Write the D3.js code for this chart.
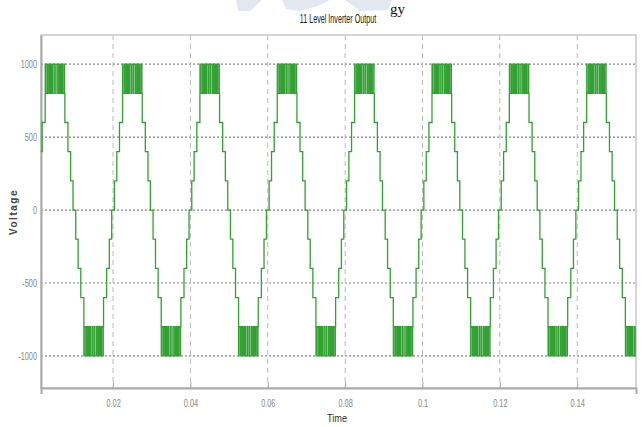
<!DOCTYPE html>
<html>
<head>
<meta charset="utf-8">
<script src="https://cdnjs.cloudflare.com/ajax/libs/d3/7.8.5/d3.min.js"></script>
<style>
  html, body { margin: 0; padding: 0; background: #fff; }
  svg { display: block; }
</style>
</head>
<body>
<svg id="chart" width="644" height="427"></svg>
<script>
// ---- Data ----
const title = "11 Level Inverter Output";
const xLabel = "Time";
const yLabel = "Voltage";
const xDomain = [0.00137, 0.1552];
const yDomain = [-1220, 1200];
const xTicks = [0.02, 0.04, 0.06, 0.08, 0.1, 0.12, 0.14];
const xTickLabels = ["0.02", "0.04", "0.06", "0.08", "0.1", "0.12", "0.14"];
const yTicks = [-1000, -500, 0, 500, 1000];
const yTickLabels = ["-1000", "-500", "0", "500", "1000"];

// one fundamental period (20 ms): [time in ms, output level from that time on]
const periodMs = [
  [0.00, 0], [0.35, 200], [0.97, 400], [1.66, 600], [2.45, 800],
  [2.47, 1000], [2.55, 800], [2.95, 1000], [3.05, 800], [3.40, 1000], [3.58, 800],
  [3.85, 1000], [4.10, 800], [4.30, 1000], [4.72, 800], [4.80, 1000], [5.20, 800],
  [5.26, 1000], [5.70, 800], [5.80, 1000], [6.15, 800], [6.40, 1000], [6.58, 800],
  [6.90, 1000], [7.02, 800], [7.40, 1000], [7.46, 800],
  [7.54, 600], [8.34, 400], [9.03, 200], [9.65, 0],
  [10.35, -200], [10.97, -400], [11.66, -600], [12.45, -800],
  [12.47, -1000], [12.55, -800], [12.95, -1000], [13.05, -800], [13.40, -1000], [13.58, -800],
  [13.85, -1000], [14.10, -800], [14.30, -1000], [14.72, -800], [14.80, -1000], [15.20, -800],
  [15.26, -1000], [15.70, -800], [15.80, -1000], [16.15, -800], [16.40, -1000], [16.58, -800],
  [16.90, -1000], [17.02, -800], [17.40, -1000], [17.46, -800],
  [17.54, -600], [18.34, -400], [19.03, -200], [19.65, 0]
];
// start time (s) of each repeated period shown
const cycleStarts = [0, 0.02, 0.04, 0.06, 0.08, 0.10, 0.12, 0.14];

// ---- Layout ----
const svg = d3.select("#chart");
const mLeft = 41, mRight = 636, mTop = 35, mBottom = 388;
const x = d3.scaleLinear().domain(xDomain).range([mLeft, mRight]);
const y = d3.scaleLinear().domain(yDomain).range([mBottom, mTop]);
const font = "'Liberation Sans', Arial, sans-serif";

function condense(sel, k) {
  sel.each(function () {
    const L = this.getComputedTextLength();
    d3.select(this).attr("textLength", L * k).attr("lengthAdjust", "spacingAndGlyphs");
  });
}

// watermark remnant at top
svg.append("path")
  .attr("d", "M236,0 L262,0 L250,11 L238,11 Z M282,0 L330,0 L318,6 L300,11 L286,9 Z M345,0 L392,0 L388,10 L360,11 Z")
  .attr("fill", "#e3e8f0");
svg.append("text").attr("x", 390).attr("y", 14)
  .attr("font-family", "'Liberation Serif', 'DejaVu Serif', serif")
  .attr("font-size", 15).attr("fill", "#111").text("gy");

// title (condensed via horizontal scale)
svg.append("text").attr("transform", "translate(338,23) scale(0.6,1)")
  .attr("text-anchor", "middle").attr("font-family", font)
  .attr("font-size", 12).attr("fill", "#222").text(title);

// grid
const grid = svg.append("g");
grid.selectAll("line.h").data(yTicks).join("line")
  .attr("x1", mLeft).attr("x2", mRight)
  .attr("y1", d => y(d)).attr("y2", d => y(d))
  .attr("stroke", "#888").attr("stroke-width", 1.2).attr("stroke-dasharray", "2,2");
grid.selectAll("line.v").data(xTicks).join("line")
  .attr("x1", d => x(d)).attr("x2", d => x(d))
  .attr("y1", mTop).attr("y2", mBottom)
  .attr("stroke", "#bbb").attr("stroke-width", 1).attr("stroke-dasharray", "5,4");

// frame
svg.append("rect").attr("x", mLeft).attr("y", mTop)
  .attr("width", mRight - mLeft).attr("height", mBottom - mTop)
  .attr("fill", "none").attr("stroke", "#c8c8c8").attr("stroke-width", 1.5);

// axes
const xAxis = d3.axisBottom(x).tickValues(xTicks)
  .tickFormat((d, i) => xTickLabels[i]).tickSize(6).tickPadding(6);
const gx = svg.append("g").attr("transform", `translate(0,${mBottom})`).call(xAxis);
const yAxis = d3.axisLeft(y).tickValues(yTicks)
  .tickFormat((d, i) => yTickLabels[i]).tickSize(0).tickPadding(4);
const gy = svg.append("g").attr("transform", `translate(${mLeft},0)`).call(yAxis);
[gx, gy].forEach(g => {
  g.select(".domain").attr("stroke", "#aaa").attr("stroke-width", 2);
  g.selectAll(".tick line").attr("stroke", "#aaa");
  g.selectAll("text").attr("font-family", font).attr("font-size", 10.5).attr("fill", "#888")
    .call(condense, 0.7);
});
gx.selectAll(".tick line").attr("y2", -6);

// axis labels
svg.append("text").attr("x", 337).attr("y", 422)
  .attr("text-anchor", "middle").attr("font-family", font)
  .attr("font-size", 11.5).attr("fill", "#333").text(xLabel)
  .call(condense, 0.8);
svg.append("text").attr("transform", "translate(17,212) rotate(-90)")
  .attr("text-anchor", "middle").attr("font-family", font)
  .attr("font-weight", "bold").attr("font-size", 10).attr("fill", "#444")
  .attr("letter-spacing", 1.5).text(yLabel);

// waveform
const pts = [];
cycleStarts.forEach(c => periodMs.forEach(p => pts.push([c + p[0] / 1000, p[1]])));
pts.push([cycleStarts[cycleStarts.length - 1] + 0.02, 0]);

svg.append("clipPath").attr("id", "clip").append("rect")
  .attr("x", mLeft).attr("y", mTop - 5).attr("width", mRight - mLeft).attr("height", mBottom - mTop + 10);

const line = d3.line().x(d => x(d[0])).y(d => y(d[1])).curve(d3.curveStepAfter);
svg.append("path").datum(pts)
  .attr("clip-path", "url(#clip)")
  .attr("d", line)
  .attr("fill", "none").attr("stroke", "#33a033").attr("stroke-width", 1.3);
</script>
</body>
</html>
